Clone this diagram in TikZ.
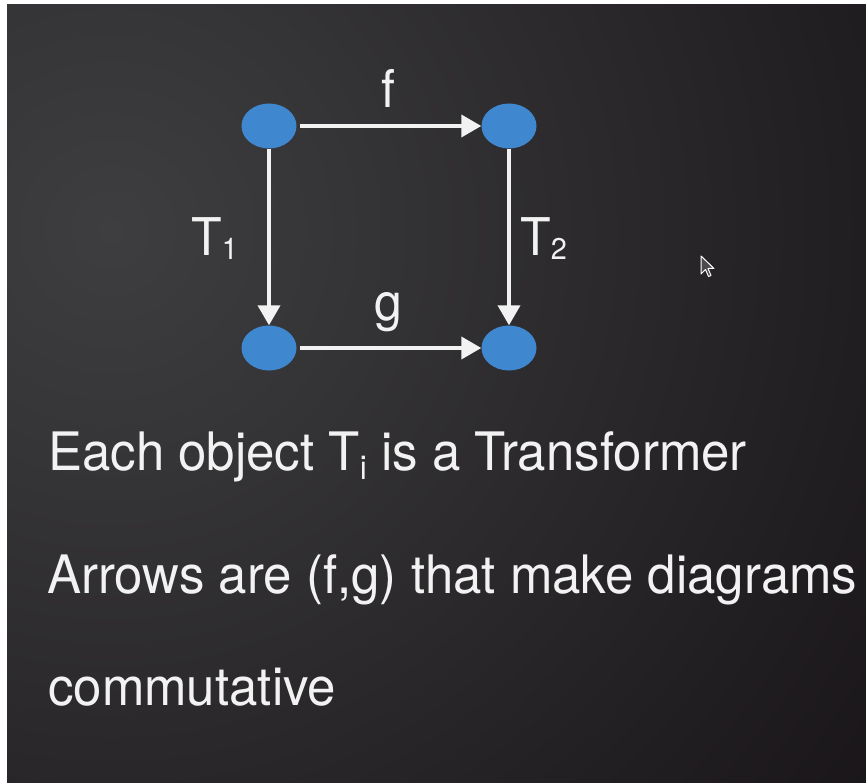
\documentclass[tikz,border=0pt]{standalone}
\usepackage{fontspec}
\setmainfont[FakeStretch=0.962]{TeX Gyre Heros}
\usetikzlibrary{arrows.meta,shapes.geometric}
\definecolor{bglight}{HTML}{3E3E41}
\definecolor{bgdark}{HTML}{0E090C}
\definecolor{nodeblue}{HTML}{3F88D0}
\definecolor{txt}{HTML}{F2F2F2}
\tikzset{
  dot/.style={ellipse, fill=nodeblue, draw=none, minimum width=55pt, minimum height=45pt, inner sep=0pt},
  arr/.style={draw=txt, line width=3.8pt, -{Triangle[length=20pt,width=22pt]}},
  lbl/.style={text=txt, inner sep=0pt, font=\fontsize{52}{60}\selectfont},
  body/.style={text=txt, inner sep=0pt, anchor=base west, font=\fontsize{53}{60}\selectfont}
}
\begin{document}
\begin{tikzpicture}[x=1pt,y=-1pt]
\useasboundingbox (0,0) rectangle (866,783);
\fill[white] (0,0) rectangle (866,783);
\begin{scope}
  \clip (7,5) rectangle (866,783);
  \fill[bgdark] (7,5) rectangle (866,783);
  \shade[inner color=bglight, outer color=bgdark] (110,230) circle (1250);
\end{scope}
% nodes
\node[dot] (a) at (269,126) {};
\node[dot] (b) at (509,126) {};
\node[dot] (c) at (269,348) {};
\node[dot] (d) at (509,348) {};
% arrows
\draw[arr, shorten <=3pt] (a) -- (b);
\draw[arr] (a) -- (c);
\draw[arr] (b) -- (d);
\draw[arr, shorten <=3pt] (c) -- (d);
% labels
\node[lbl, anchor=base] (lf) at (388,108) {f};
\node[lbl, anchor=base] (lg) at (388,320) {g};
\node[lbl, anchor=base west] (lt1) at (191,255) {T\raisebox{-4pt}{\fontsize{30}{30}\selectfont 1}};
\node[lbl, anchor=base west] (lt2) at (520,255) {T\raisebox{-4pt}{\fontsize{30}{30}\selectfont 2}};
% body text
\node[body] (l1) at (48,470) {Each object T\raisebox{-9pt}{\fontsize{33}{33}\selectfont i} is a Transformer};
\node[body] (l2) at (47,593) {Arrows are (f,g) that make diagrams};
\node[body] (l3) at (48,705) {commutative};
% mouse cursor
\draw[white, line width=1pt, fill=black!70, line join=round]
  (701,256) -- (701,274) -- (705.5,269.5) -- (708.5,276.5) -- (711,275.5) -- (708,268.5) -- (714,268.5) -- cycle;
\end{tikzpicture}
\end{document}
